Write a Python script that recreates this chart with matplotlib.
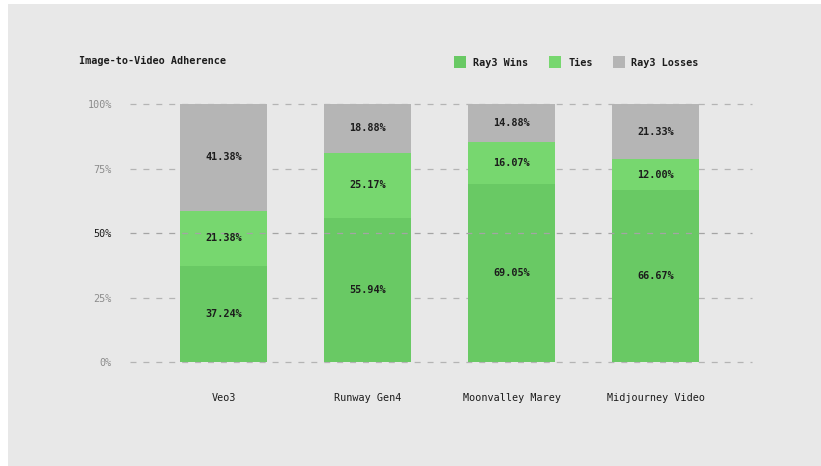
import matplotlib
matplotlib.use("Agg")
import matplotlib.pyplot as plt
from matplotlib.patches import Rectangle
import numpy as np

plt.rcParams['lines.scale_dashes'] = False
FONT = 'DejaVu Sans Mono'

title = "Image-to-Video Adherence"
categories = ["Veo3", "Runway Gen4", "Moonvalley Marey", "Midjourney Video"]
wins = [37.24, 55.94, 69.05, 66.67]
ties = [21.38, 25.17, 16.07, 12.00]
losses = [41.38, 18.88, 14.88, 21.33]
series_names = ["Ray3 Wins", "Ties", "Ray3 Losses"]
colors = ["#69c964", "#77d76f", "#b5b5b5"]
yticks = [0, 25, 50, 75, 100]
ytick_labels = ["0%", "25%", "50%", "75%", "100%"]

BG = "#e8e8e8"
fig = plt.figure(figsize=(8.21, 4.66), dpi=100)
fig.patch.set_facecolor("white")
fig.add_artist(Rectangle((8/821, 0), 1, 1 - 4/466, transform=fig.transFigure,
                         facecolor=BG, edgecolor="none", zorder=0))

W, H = 821, 466
x0, x1 = 130, 752
y0, y1 = 104, 362
ax = fig.add_axes([x0/W, 1 - y1/H, (x1-x0)/W, (y1-y0)/H])
ax.set_facecolor("none")
ax.set_xlim(-0.65, 3.67)
ax.set_ylim(0, 100)
for s in ax.spines.values():
    s.set_visible(False)

x = np.arange(len(categories))
width = 0.6
bottom = np.zeros(len(categories))
for vals, c in zip([wins, ties, losses], colors):
    v = np.array(vals)
    ax.bar(x, v, width, bottom=bottom, color=c, zorder=2, linewidth=0)
    for xi, b, h in zip(x, bottom, v):
        ax.text(xi, b + h/2, f"{h:.2f}%", ha="center", va="center",
                fontsize=7.3, family=FONT, fontweight="bold", color="#1c1c1c", zorder=4)
    bottom += v

for yt in yticks:
    z = 3 if yt in (50, 100) else 1
    col = "#a4a4a4" if yt == 50 else "#b4b4b4"
    ax.axhline(yt, color=col, lw=0.9, dashes=(4.3, 5.0), zorder=z, clip_on=False)

ax.set_yticks(yticks)
ax.set_yticklabels(ytick_labels, family=FONT, fontsize=7.3, color="#8c8c8c")
for lbl, yt in zip(ax.get_yticklabels(), yticks):
    if yt == 50:
        lbl.set_color("#1c1c1c")
ax.tick_params(axis="y", length=0, pad=13)
ax.set_xticks(x)
ax.set_xticklabels(categories, family=FONT, fontsize=7.3, color="#1c1c1c")
ax.tick_params(axis="x", length=0, pad=22)

fig.text(79/W, 1 - 61/H, title, family=FONT, fontsize=7.3, fontweight="bold",
         color="#1c1c1c", va="center", ha="left")

leg_items = [(454, 473), (549, 568), (613, 631)]
for (sx, tx), name, c in zip(leg_items, series_names, colors):
    fig.add_artist(Rectangle((sx/W, 1 - 68/H), 12/W, 12/H, transform=fig.transFigure,
                             facecolor=c, edgecolor="none"))
    fig.text(tx/W, 1 - 62.5/H, name, family=FONT, fontsize=7.3, fontweight="bold",
             color="#1c1c1c", va="center", ha="left")

fig.savefig("out.png", dpi=100, facecolor=fig.get_facecolor())
